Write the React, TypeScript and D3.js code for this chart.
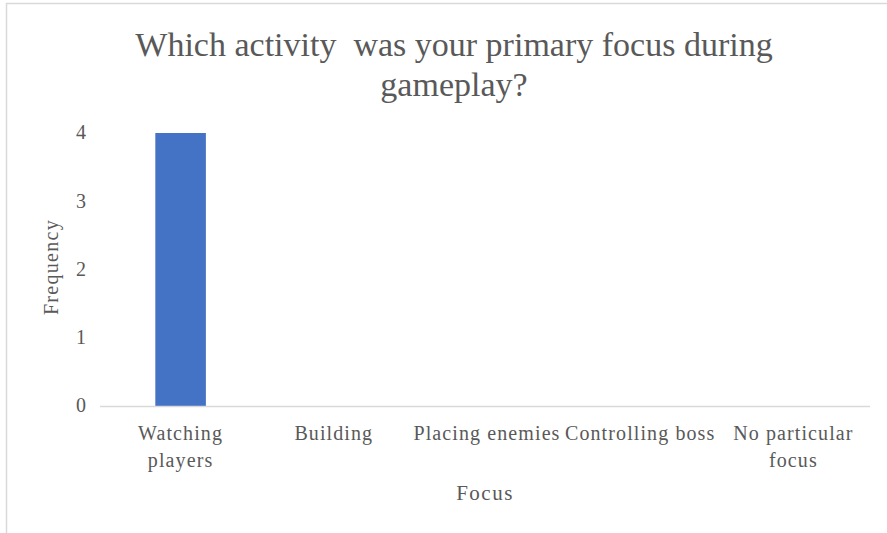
import React from "react";
import * as d3 from "d3";

const categories: string[][] = [
	["Watching", "players"],
	["Building"],
	["Placing enemies"],
	["Controlling boss"],
	["No particular", "focus"],
];
const frequency: number[] = [4, 0, 0, 0, 0];
const yTicks: number[] = [0, 1, 2, 3, 4];
const titleLines: string[] = ["Which activity  was your primary focus during", "gameplay?"];

const W = 887;
const H = 533;
const textColor = "#595959";
const font = `"Liberation Serif"`;

export default function App() {
	const margin = { top: 133, left: 104, right: 17, bottom: 127 };
	const keys = categories.map((c) => c.join(" "));

	const xScale = d3
		.scaleBand()
		.domain(keys)
		.range([margin.left, W - margin.right])
		.paddingInner(0.67)
		.paddingOuter(0.335);
	const xOuter = d3.scaleBand().domain(keys).range([margin.left, W - margin.right]);
	const yScale = d3.scaleLinear().domain([0, 4]).range([H - margin.bottom, margin.top]);

	return (
		<svg
			width={W}
			height={H}
			style={{ position: "absolute", left: 0, top: 0, background: "#fff", fontFamily: font }}
		>
			{/* frame: top and left edges only, like the screenshot */}
			<line x1={6} x2={W} y1={3.5} y2={3.5} stroke="#d9d9d9" strokeWidth={1.5} />
			<line x1={6.5} x2={6.5} y1={3} y2={H} stroke="#d9d9d9" strokeWidth={1.5} />

			<text textAnchor="middle" fill={textColor} style={{ fontFamily: font, fontSize: 34, whiteSpace: "pre" }}>
				{titleLines.map((t, i) => (
					<tspan key={i} x={454} y={56 + i * 40}>
						{t}
					</tspan>
				))}
			</text>

			{yTicks.map((t) => (
				<text
					key={t}
					x={margin.left - 18}
					y={yScale(t)}
					dy="0.32em"
					textAnchor="end"
					fill={textColor}
					style={{ fontFamily: font, fontSize: 20 }}
				>
					{d3.format("d")(t)}
				</text>
			))}

			{frequency.map((d, i) => (
				<rect
					key={i}
					x={xScale(keys[i])}
					width={xScale.bandwidth()}
					y={yScale(d)}
					height={yScale(0) - yScale(d)}
					fill="#4472c4"
				/>
			))}

			<line
				x1={100}
				x2={W - margin.right}
				y1={yScale(0) + 0.5}
				y2={yScale(0) + 0.5}
				stroke="#d9d9d9"
				strokeWidth={1.5}
			/>

			{categories.map((lines, i) => {
				const cx = (xOuter(keys[i]) as number) + xOuter.bandwidth() / 2;
				return (
					<text
						key={i}
						textAnchor="middle"
						fill={textColor}
						style={{ fontFamily: font, fontSize: 20, letterSpacing: "1.1px" }}
					>
						{lines.map((l, j) => (
							<tspan key={j} x={cx} y={440 + j * 27}>
								{l}
							</tspan>
						))}
					</text>
				);
			})}

			<text
				x={485}
				y={500}
				textAnchor="middle"
				fill={textColor}
				style={{ fontFamily: font, fontSize: 21, letterSpacing: "1.5px" }}
			>
				Focus
			</text>
			<text
				transform="translate(58,267) rotate(-90)"
				textAnchor="middle"
				fill={textColor}
				style={{ fontFamily: font, fontSize: 20, letterSpacing: "1.3px" }}
			>
				Frequency
			</text>
		</svg>
	);
}
